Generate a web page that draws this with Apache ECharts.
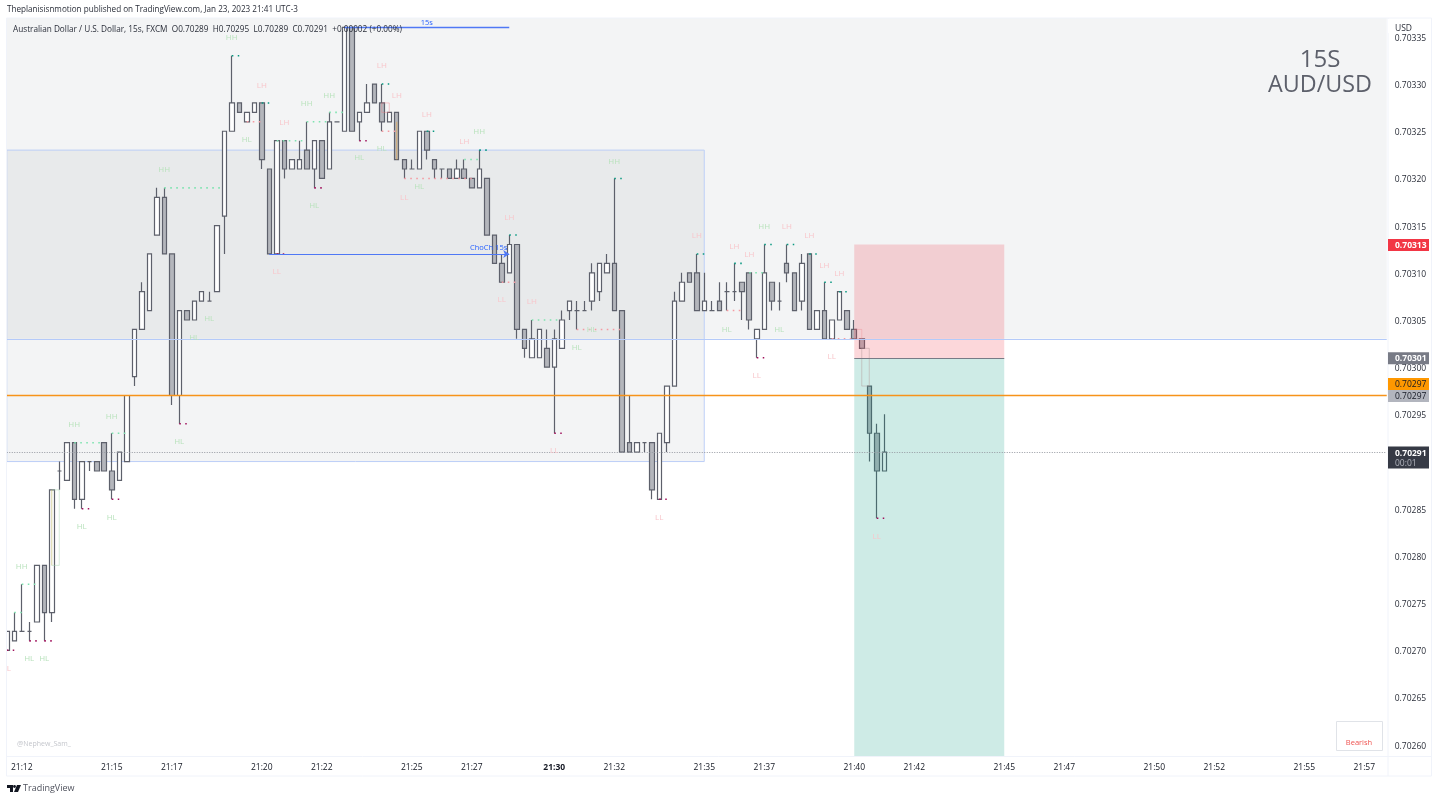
<!DOCTYPE html>
<html><head><meta charset="utf-8">
<style>html,body{margin:0;padding:0;background:#fff}#c{width:1440px;height:801px}</style>
<script src="https://cdn.jsdelivr.net/npm/echarts@6/dist/echarts.min.js"></script>
</head><body><div id="c"></div>
<script>
// ---- data: prices, one entry per 15s bar ----
const opens=[.70270,.70271,.70272,.70272,.70273,.70279,.70274,.70289,.70288,.70292,.70286,.70290,.70290,.70292,.70289,.70288,.70290,.70299,.70304,.70306,.70314,.70318,.70312,.70297,.70306,.70305,.70307,.70307,.70308,.70316,.70325,.70328,.70326,.70327,.70328,.70321,.70312,.70324,.70321,.70321,.70323,.70321,.70324,.70321,.70326,.70325,.70336,.70326,.70327,.70330,.70328,.70326,.70327,.70322,.70321,.70321,.70325,.70322,.70321,.70321,.70320,.70321,.70320,.70319,.70320,.70314,.70311,.70310,.70313,.70304,.70301,.70301,.70302,.70300,.70302,.70306,.70306,.70306,.70307,.70308,.70310,.70311,.70306,.70292,.70291,.70292,.70292,.70286,.70292,.70298,.70307,.70310,.70310,.70306,.70306,.70307,.70308,.70308,.70309,.70310,.70303,.70304,.70309,.70307,.70311,.70310,.70307,.70312,.70304,.70306,.70303,.70305,.70306,.70304,.70303,.70298,.70293,.70289];
const closes=[.70272,.70272,.70272,.70272,.70279,.70274,.70287,.70289,.70292,.70286,.70290,.70290,.70289,.70289,.70287,.70291,.70297,.70304,.70308,.70312,.70318,.70312,.70297,.70306,.70305,.70307,.70308,.70307,.70315,.70325,.70328,.70327,.70327,.70328,.70322,.70312,.70324,.70321,.70322,.70322,.70321,.70324,.70320,.70326,.70326,.70336,.70325,.70327,.70328,.70328,.70326,.70327,.70322,.70321,.70321,.70325,.70323,.70321,.70321,.70320,.70321,.70320,.70319,.70321,.70314,.70311,.70309,.70313,.70304,.70302,.70303,.70304,.70300,.70303,.70305,.70307,.70306,.70306,.70310,.70311,.70311,.70306,.70291,.70291,.70292,.70292,.70287,.70293,.70298,.70307,.70309,.70309,.70306,.70307,.70306,.70306,.70308,.70308,.70308,.70305,.70304,.70310,.70307,.70307,.70310,.70306,.70311,.70304,.70306,.70303,.70305,.70308,.70304,.70303,.70302,.70293,.70289,.70291];
const lows=[.70270,.70271,.70272,.70271,.70273,.70271,.70273,.70287,.70288,.70285,.70285,.70289,.70289,.70289,.70286,.70288,.70290,.70298,.70304,.70306,.70314,.70312,.70296,.70294,.70305,.70305,.70307,.70307,.70308,.70312,.70325,.70327,.70326,.70327,.70321,.70312,.70312,.70320,.70321,.70321,.70321,.70319,.70320,.70321,.70326,.70325,.70325,.70324,.70327,.70328,.70325,.70326,.70322,.70320,.70321,.70321,.70322,.70320,.70320,.70320,.70320,.70320,.70319,.70319,.70314,.70311,.70309,.70310,.70303,.70301,.70301,.70301,.70300,.70293,.70302,.70305,.70304,.70306,.70306,.70307,.70310,.70306,.70291,.70291,.70291,.70291,.70286,.70286,.70291,.70298,.70307,.70309,.70306,.70306,.70306,.70306,.70306,.70307,.70305,.70304,.70301,.70304,.70306,.70306,.70309,.70306,.70306,.70304,.70304,.70303,.70303,.70305,.70304,.70303,.70302,.70290,.70284,.70289];
const highs=[.70272,.70274,.70277,.70273,.70279,.70279,.70287,.70290,.70292,.70292,.70290,.70290,.70290,.70292,.70293,.70291,.70297,.70304,.70309,.70312,.70319,.70319,.70312,.70306,.70306,.70307,.70308,.70308,.70315,.70325,.70333,.70328,.70327,.70328,.70328,.70321,.70324,.70324,.70322,.70324,.70326,.70324,.70324,.70327,.70326,.70336,.70336,.70327,.70330,.70330,.70330,.70327,.70327,.70322,.70322,.70325,.70325,.70322,.70321,.70321,.70322,.70322,.70320,.70323,.70320,.70314,.70312,.70314,.70313,.70304,.70305,.70304,.70304,.70304,.70306,.70307,.70307,.70307,.70311,.70311,.70312,.70320,.70306,.70297,.70292,.70292,.70292,.70293,.70298,.70308,.70310,.70310,.70312,.70310,.70307,.70309,.70309,.70311,.70309,.70310,.70304,.70313,.70309,.70309,.70313,.70310,.70312,.70312,.70306,.70309,.70305,.70308,.70306,.70305,.70303,.70298,.70294,.70295];

const tickIndex=[2,14,22,34,42,54,62,73,81,93,101,113,121,133,141,153,161,173,181];
const tickLabels=['21:12','21:15','21:17','21:20','21:22','21:25','21:27','21:30','21:32','21:35','21:37','21:40','21:42','21:45','21:47','21:50','21:52','21:55','21:57'];
const priceTicks=[.70260,.70265,.70270,.70275,.70280,.70285,.70290,.70295,.70300,.70305,.70310,.70315,.70320,.70325,.70330,.70335];

// swing labels: [bar, price, text]
const swingLabels=[[30,.703349,'HH'],[34,.703298,'LH'],[32,.703241,'HL'],[37,.703259,'LH'],[40,.703279,'HH'],[43,.703288,'HH'],[21,.703209,'HH'],[27,.703051,'HL'],[25,.703031,'HL'],[23,.702921,'HL'],[14,.702948,'HH'],[9,.702939,'HH'],[10,.702831,'HL'],[14,.70284,'HL'],[2,.702789,'HH'],[3,.702691,'HL'],[5,.702691,'HL'],[0,.70268,'  L'],[36,.703101,'LL'],[41,.703171,'HL'],[47,.703222,'HL'],[50,.703319,'LH'],[52,.703288,'LH'],[50,.703231,'HL'],[55,.703191,'HL'],[53,.70318,'LL'],[56,.703268,'LH'],[61,.703239,'LH'],[63,.703249,'HH'],[81,.703218,'HH'],[67,.703158,'LH'],[66,.703071,'LL'],[70,.703069,'LH'],[78,.70304,'HL'],[76,.703021,'HL'],[73,.702911,'LL'],[87,.70284,'LL'],[92,.703139,'LH'],[97,.703128,'LH'],[99,.703119,'LH'],[101,.703149,'HH'],[104,.703149,'LH'],[107,.703139,'LH'],[109,.703108,'LH'],[111,.703099,'LH'],[96,.70304,'HL'],[103,.70304,'HL'],[100,.702991,'LL'],[110,.703011,'LL'],[116,.70282,'LL']];

// dotted swing extensions: [fromBar, toBar, price]
const tealRuns=[[30,31,.70333],[34,35,.70328],[50,51,.7033],[56,57,.70325],[63,64,.70323],[81,82,.7032],[67,68,.70314],[92,93,.70312],[97,98,.70311],[101,102,.70313],[104,105,.70313],[107,108,.70312],[109,110,.70309],[111,112,.70308]];
const magentaRuns=[[0,1,.7027],[3,4,.70271],[5,6,.70271],[10,11,.70285],[14,15,.70286],[23,24,.70294],[41,42,.70319],[47,48,.70324],[36,37,.70312],[73,74,.70293],[87,88,.70286],[100,101,.70301],[116,117,.70284]];
const greenRuns=[[1,2,.70274],[2,4,.70277],[9,13,.70292],[14,16,.70293],[21,29,.70319],[36,40,.70324],[40,43,.70326],[43,45,.70327],[61,63,.70322],[70,74,.70305],[99,101,.7031]];
const pinkRuns=[[32,34,.70326],[50,52,.70325],[53,62,.7032],[66,68,.70309],[76,82,.70304],[96,98,.70306],[110,113,.70303]];
// faint amber marks inside two long candles: [bar, priceA, priceB, opacity]
const amberMarks=[[6,.70279,.70287,.3],[52,.70322,.70326,.6]];

const paneBand=[0,184,.70303,.70337];
const rangeBox=[0,93,.7029,.70323];
const riskBox=[113,133,.703009,.70313];
const rewardBox=[113,133,.702588,.703009];
const ghostBoxes=[[6,7,.70279,.70287,'rgba(160,210,170,.45)'],[50,51,.70327,.70328,'rgba(242,120,130,.4)'],[113,114,.70303,.70304,'rgba(242,120,130,.3)'],[114,115,.70298,.70302,'rgba(180,150,150,.45)']];
const orangeLevel=.70297, lastPrice=.70291;
const bosLine=[45,67,.70336,'15s'], chochLine=[35,67,.70312,'ChoCh 15s'];

const FONT='"Open Sans","Noto Sans",sans-serif';
const YMIN=.702588, YMAX=.70337, BARS=185, LABEL_NUDGE=.0000016;

const categories=Array.from({length:BARS},(_,i)=>{const t=tickIndex.indexOf(i);return t>=0?tickLabels[t]:'#'+i;});
const candles=opens.map((o,i)=>[o,closes[i],lows[i],highs[i]]);
const chart=echarts.init(document.getElementById('c'),null,{renderer:'canvas'});

function area(b,fill,stroke,z){return {type:'line',data:[],silent:true,animation:false,markArea:{silent:true,z:z,animation:false,itemStyle:{color:fill,borderColor:stroke||'transparent',borderWidth:stroke?1:0},data:[[{coord:[b[0],b[2]]},{coord:[b[1],b[3]]}]]}};}
function runs(list,color,width,dash){return list.map(r=>({type:'line',z:4,silent:true,animation:false,showSymbol:false,symbol:'none',clip:true,lineStyle:{color,width,type:dash},data:[[r[0],r[2]],[r[1],r[2]]]}));}
function hline(y,color,width,type,x0,x1){return {type:'line',data:[],silent:true,animation:false,markLine:{silent:true,animation:false,symbol:'none',label:{show:false},lineStyle:{color,width,type},data:[[{coord:[x0,y]},{coord:[x1,y]}]]}};}
function arrowLine(l,arrow,pos,dy,w){return {type:'line',data:[],silent:true,animation:false,markLine:{silent:true,animation:false,symbol:['none',arrow?'arrow':'none'],symbolSize:6,lineStyle:{color:'#4f78f5',width:w,type:'solid'},label:{show:true,position:pos,formatter:l[3],fontSize:7.5,fontFamily:FONT,color:'#2962ff',distance:dy},data:[[{coord:[l[0],l[2]]},{coord:[l[1],l[2]]}]]}};}

const series=[
 area(paneBand,'rgba(120,123,134,.085)',null,1),
 area(rangeBox,'rgba(120,123,134,.085)','#bdcff7',1),
 hline(paneBand[2],'#b4caf9',1.2,'solid',0,184),
 {type:'candlestick',name:'AUDUSD',z:2,clip:true,animation:false,barWidth:5,data:candles,
  itemStyle:{color:'#ffffff',color0:'#b4b6bc',borderColor:'#5d606b',borderColor0:'#5d606b',borderColorDoji:'#5d606b',borderWidth:1.2}},
 area(riskBox,'rgba(242,54,69,.2)',null,3),
 area(rewardBox,'rgba(8,153,129,.2)',null,3),
 hline(riskBox[2],'#787b86',1,'solid',113,133),
 hline(orangeLevel,'#f7931a',1.4,'solid',0,184),
 hline(lastPrice,'#9598a1',1,[1,1.5],0,184),
 arrowLine(bosLine,false,'insideMiddleTop',1,1.4),
 arrowLine(chochLine,true,'insideEndTop',2,1),
 ...runs(greenRuns,'#7fe3b0',1.6,[1.6,4.4]),
 ...runs(pinkRuns,'#f59aa2',1.6,[1.6,4.4]),
 ...runs(tealRuns,'#089981',1.6,[1.6,4.4]),
 ...runs(magentaRuns,'#a0125c',1.6,[1.6,4.4]),
 ...amberMarks.map(m=>({type:'line',z:4,silent:true,animation:false,showSymbol:false,symbol:'none',lineStyle:{color:'rgb(240,170,60)',opacity:m[3],width:1},data:[[m[0],m[1]],[m[0],m[2]]]})),
 ...ghostBoxes.map(g=>area([g[0],g[1],g[2],g[3]],'transparent',g[4],3)),
 {type:'custom',z:5,silent:true,animation:false,clip:false,
  data:swingLabels.map((s,i)=>[s[0],s[1],i]),
  renderItem:(params,api)=>{const p=api.coord([api.value(0),api.value(1)]);const t=swingLabels[api.value(2)][2];
    return {type:'text',silent:true,style:{x:p[0],y:p[1],text:t,align:'center',verticalAlign:'middle',fontSize:8,fontFamily:FONT,fill:/^H/.test(t)?'#b9e2bd':'#f8c6cb'}};}},
];

chart.setOption({
 animation:false,backgroundColor:'#ffffff',
 grid:{left:6.75,top:18,width:1380,height:738,containLabel:false},
 xAxis:{type:'category',boundaryGap:false,data:categories,axisLine:{show:false},axisTick:{show:false},splitLine:{show:false},
  axisLabel:{interval:i=>tickIndex.includes(i),margin:7,hideOverlap:false,showMinLabel:true,showMaxLabel:true,fontSize:8.5,fontFamily:FONT,color:'#131722',
   formatter:v=>v==='21:30'?'{b|21:30}':v,rich:{b:{fontWeight:'bold',fontSize:8.5,fontFamily:FONT,color:'#131722'}}}},
 yAxis:[
  {type:'value',position:'right',min:YMIN,max:YMAX,scale:true,axisLine:{show:false},axisTick:{show:false},splitLine:{show:false},axisLabel:{show:false}},
  {type:'value',position:'right',min:YMIN+LABEL_NUDGE,max:YMAX+LABEL_NUDGE,scale:true,axisLine:{show:false},axisTick:{show:false},splitLine:{show:false},
   axisLabel:{customValues:priceTicks,margin:8,fontSize:8.5,fontFamily:FONT,color:'#2a2e39',formatter:v=>v.toFixed(5)}}],
 series
});

// ---- chrome and price tags ----
const y=v=>chart.convertToPixel({yAxisIndex:0},v);
const priceTags=[
 {text:'0.70313',at:.70313,off:0,bg:'#f23645',fg:'#fff',bold:true},
 {text:'0.70301',at:.70301,off:0,bg:'#787b86',fg:'#fff',bold:true},
 {text:'0.70297',at:.70297,off:-12,bg:'#ff9800',fg:'#131722'},
 {text:'0.70297',at:.70297,off:0,bg:'#b2b5be',fg:'#131722'},
];
const txt=(x,yy,text,size,fill,extra)=>({type:'text',z:101,silent:true,style:Object.assign({x,y:yy,text,fontSize:size,fontFamily:FONT,fill,verticalAlign:'middle'},extra||{})});
const g=[
 {type:'rect',z:98,silent:true,shape:{x:0,y:18,width:6.5,height:738},style:{fill:'#fff'}},
 {type:'rect',z:100,silent:true,shape:{x:1388,y:19,width:43,height:14},style:{fill:'#fff'}},
 {type:'rect',z:99,silent:true,shape:{x:6.5,y:18,width:1425,height:758},style:{fill:'none',stroke:'#f0f3fa',lineWidth:1}},
 {type:'line',z:99,silent:true,shape:{x1:6.5,y1:756.5,x2:1431,y2:756.5},style:{stroke:'#f0f3fa',lineWidth:1}},
 {type:'line',z:99,silent:true,shape:{x1:1388,y1:18,x2:1388,y2:776},style:{stroke:'#f0f3fa',lineWidth:1}},
 txt(7,10,'Theplanisisnmotion published on TradingView.com, Jan 23, 2023 21:41 UTC-3',8.15,'#2a2e39'),
 txt(13,29.5,'Australian Dollar / U.S. Dollar, 15s, FXCM  O0.70289  H0.70295  L0.70289  C0.70291  +0.00002 (+0.00%)',8.22,'#2a2e39'),
 txt(1395,29,'USD',8.5,'#2a2e39'),
 txt(1320,60.5,'15S',24,'#5d606b',{align:'center'}),
 txt(1320,85.5,'AUD/USD',23.3,'#5d606b',{align:'center'}),
 txt(17,744,'@Nephew_Sam_',7,'#c4c6cc'),
 {type:'rect',z:100,silent:true,shape:{x:1336.5,y:721.5,width:46,height:29},style:{fill:'#fff',stroke:'#e0e3e8',lineWidth:1}},
 txt(1359,743,'Bearish',7.5,'#ef5350',{align:'center'}),
 txt(23,788.5,'TradingView',9,'#50535e'),
 {type:'polygon',z:101,silent:true,shape:{points:[[7,785],[13,785],[13,792],[10,792],[10,788],[7,788]]},style:{fill:'#131722'}},
 {type:'circle',z:101,silent:true,shape:{cx:14.5,cy:786.5,r:1.4},style:{fill:'#131722'}},
 {type:'polygon',z:101,silent:true,shape:{points:[[17,785],[21,785],[18,792],[14,792]]},style:{fill:'#131722'}},
];
priceTags.forEach(t=>{const c=y(t.at)+t.off+.5;
 g.push({type:'rect',z:102,silent:true,shape:{x:1388,y:c-6,width:41,height:12},style:{fill:t.bg}});
 const e=txt(1395,c+.6,t.text,8.5,t.fg,{fontWeight:t.bold?'bold':'normal'});e.z=103;g.push(e);});
const ly=y(lastPrice)+.5;
g.push({type:'rect',z:102,silent:true,shape:{x:1388,y:ly-6,width:41,height:22},style:{fill:'#363a45'}});
const a=txt(1395,ly+.6,'0.70291',8.5,'#fff',{fontWeight:'bold'});a.z=103;g.push(a);
const b=txt(1395,ly+11,'00:01',8.5,'#b2b5be');b.z=103;g.push(b);
chart.setOption({graphic:{elements:g}});
</script></body></html>
